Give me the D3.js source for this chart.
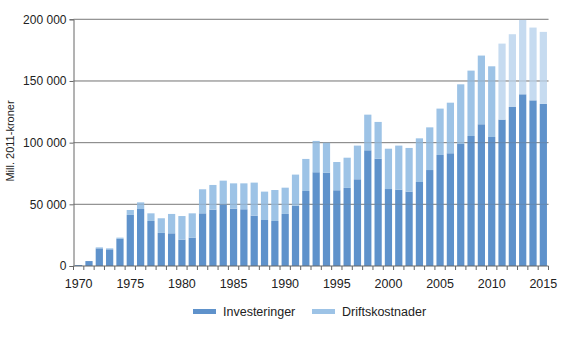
<!DOCTYPE html>
<html><head><meta charset="utf-8">
<script src="https://cdn.jsdelivr.net/npm/d3@7/dist/d3.min.js"></script>
<style>body{margin:0;background:#fff}svg{display:block}text{font-family:"Liberation Sans",Arial,sans-serif}</style>
</head><body><svg id="c" width="563" height="339"></svg>
<script>
const years = d3.range(1970, 2016);
const investeringer = [800,4000,14300,13500,22000,41400,46200,36500,26800,26500,21400,23000,
42700,45700,50000,46500,46000,40800,37300,36500,42200,48900,60800,76000,75700,61400,63300,70300,
93800,87000,62400,61900,60300,68100,77800,90000,91400,98900,105400,114900,104600,118700,128900,139200,134300,131400];
const totals = [800,4000,15100,14300,23000,45400,51600,42700,38700,42200,40500,42700,
62200,65700,69200,67000,67000,67600,60300,61600,63500,74100,86800,101400,100000,84300,87800,97600,
122700,116800,95100,97600,95700,103500,112400,127600,132400,147300,158400,170600,161900,180300,187900,199500,193300,189800];
const driftskostnader = totals.map((t,i)=>Math.max(0, t - investeringer[i]));
const projectedFrom = 2011;
const yTicks = [0,50000,100000,150000,200000];
const xLabels = [1970,1975,1980,1985,1990,1995,2000,2005,2010,2015];

(function(){
const svg = d3.select("#c");
const pL = 73.5, pR = 548.5, pT = 19.3, pB = 266;
const x = d3.scaleBand().domain(years).range([pL, pR]).paddingInner(0.3).paddingOuter(0.15);
const y = d3.scaleLinear().domain([0,200000]).range([pB, pT]);
const fmt2 = v => v===0 ? "0" : d3.format(",")(v).replace(/,/g, " ");

svg.append("g").selectAll("line").data(yTicks.filter(d=>d>0)).join("line")
  .attr("x1", pL).attr("x2", pR).attr("y1", d=>y(d)).attr("y2", d=>y(d))
  .attr("stroke", "#8a8a8a").attr("stroke-width", 1);

const dark = "#5f92cb", light = "#9dc3e6", lighter = "#c6dbf0";
const g = svg.append("g");
g.selectAll("rect.inv").data(years).join("rect").attr("class","inv")
  .attr("x", d=>x(d)).attr("width", x.bandwidth())
  .attr("y", (d,i)=>y(investeringer[i])).attr("height", (d,i)=>y(0)-y(investeringer[i]))
  .attr("fill", dark);
g.selectAll("rect.dr").data(years).join("rect").attr("class","dr")
  .attr("x", d=>x(d)).attr("width", x.bandwidth())
  .attr("y", (d,i)=>y(investeringer[i]+driftskostnader[i])).attr("height", (d,i)=>y(investeringer[i])-y(investeringer[i]+driftskostnader[i]))
  .attr("fill", d=> d>=projectedFrom ? lighter : light);

svg.append("g").selectAll("line").data(yTicks.filter(d=>d>0)).join("line")
  .attr("x1", pL).attr("x2", pR).attr("y1", d=>y(d)).attr("y2", d=>y(d))
  .attr("stroke", "#6a6a6a").attr("stroke-width", 1).attr("stroke-opacity", 0.25);

const ya = svg.append("g").attr("transform", `translate(${pL},0)`)
  .call(d3.axisLeft(y).tickValues(yTicks).tickFormat(fmt2).tickSize(4).tickPadding(3));
ya.select(".domain").attr("stroke", "#666");
ya.selectAll(".tick line").attr("stroke", "#666");
ya.selectAll("text").attr("font-size", 12).attr("fill", "#222").style("font-family","'Liberation Sans',Arial,sans-serif");

const xa = svg.append("g").attr("transform", `translate(0,${pB})`);
xa.append("line").attr("x1", pL).attr("x2", pR).attr("stroke", "#666");
const step = x.step();
const tx = i => x(years[0]) - step*x.paddingInner()/2 + i*step;
xa.selectAll("line.t").data(d3.range(years.length+1)).join("line").attr("class","t")
  .attr("x1", tx).attr("x2", tx).attr("y1",0).attr("y2",4)
  .attr("stroke", "#666");
xa.selectAll("text").data(xLabels).join("text")
  .attr("x", d=>x(d)+x.bandwidth()/2).attr("y", 22)
  .attr("text-anchor","middle").attr("font-size", 12.5).attr("fill","#222").text(d=>d);

svg.append("text").attr("transform", "translate(14,141) rotate(-90)")
  .attr("text-anchor","middle").attr("font-size", 11).attr("fill","#222").text("Mill. 2011-kroner");

const leg = svg.append("g");
const items = [{label:"Investeringer", c:dark, x:193},{label:"Driftskostnader", c:light, x:312}];
items.forEach(it=>{
  leg.append("rect").attr("x", it.x).attr("y", 309).attr("width", 23).attr("height", 5).attr("fill", it.c);
  leg.append("text").attr("x", it.x+30).attr("y", 316).attr("font-size", 12.5).attr("fill","#222").text(it.label);
});
})();
</script></body></html>
